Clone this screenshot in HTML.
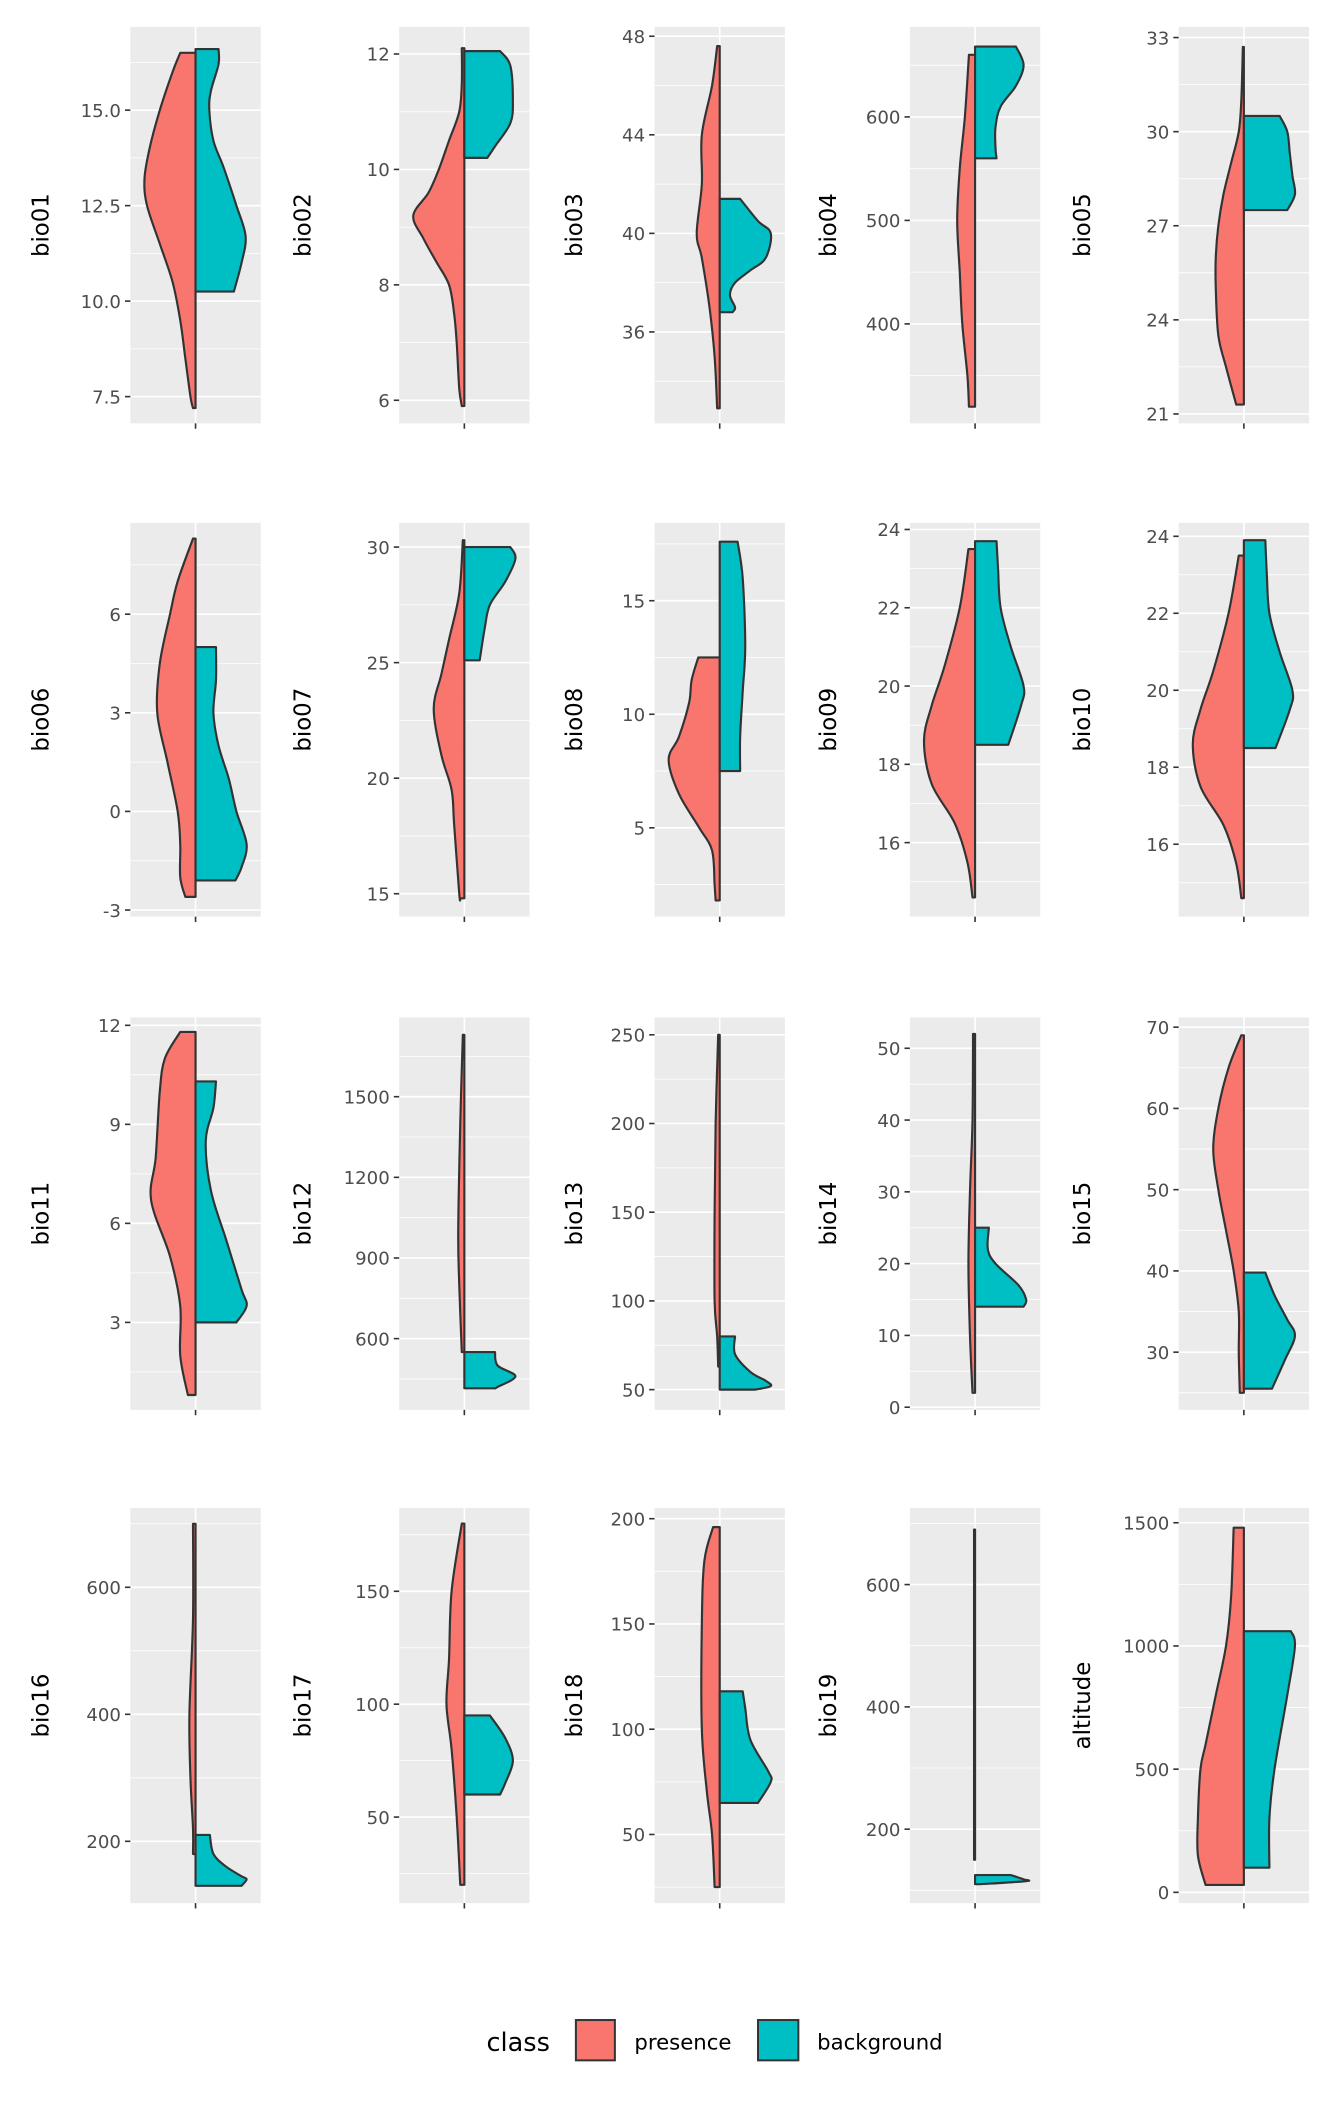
<!DOCTYPE html>
<html><head><meta charset="utf-8"><style>
html,body{margin:0;padding:0;background:#fff}
svg{display:block}
text{font-family:"DejaVu Sans","Liberation Sans",sans-serif}
</style></head><body>
<svg id="chart" width="1344" height="2112" viewBox="0 0 1000 1571.43" xmlns="http://www.w3.org/2000/svg">
<g id="panels"></g>
<g>
<text x="362" y="1526" font-size="19" fill="#000">class</text>
<rect x="428.5" y="1503" width="29" height="30" fill="#F8766D" stroke="#333" stroke-width="1.5"/>
<text x="472" y="1525" font-size="15.8" fill="#000">presence</text>
<rect x="564" y="1503" width="30" height="30" fill="#00BFC4" stroke="#333" stroke-width="1.5"/>
<text x="608" y="1525" font-size="15.8" fill="#000">background</text>
</g>
</svg>
<script>
const names=["bio01","bio02","bio03","bio04","bio05","bio06","bio07","bio08","bio09","bio10","bio11","bio12","bio13","bio14","bio15","bio16","bio17","bio18","bio19","altitude"];
const domains=[[6.80,17.18],[5.60,12.47],[32.29,48.38],[303.9,687],[20.70,33.34],
[-3.20,8.78],[14.01,31.05],[1.09,18.43],[14.11,24.17],[14.12,24.35],
[0.35,12.24],[335,1795],[38.6,259.8],[-0.37,54.3],[22.9,71.2],
[102.7,724.9],[11.9,186.9],[17.4,205.1],[79.1,725.3],[-43.6,1560]];
const tickVals=[[7.5,10,12.5,15],[6,8,10,12],[36,40,44,48],[400,500,600],[21,24,27,30,33],
[-3,0,3,6],[15,20,25,30],[5,10,15],[16,18,20,22,24],[16,18,20,22,24],
[3,6,9,12],[600,900,1200,1500],[50,100,150,200,250],[0,10,20,30,40,50],[30,40,50,60,70],
[200,400,600],[50,100,150],[50,100,150,200],[200,400,600],[0,500,1000,1500]];
const tickLabels=[["7.5","10.0","12.5","15.0"],["6","8","10","12"],["36","40","44","48"],["400","500","600"],["21","24","27","30","33"],
["-3","0","3","6"],["15","20","25","30"],["5","10","15"],["16","18","20","22","24"],["16","18","20","22","24"],
["3","6","9","12"],["600","900","1200","1500"],["50","100","150","200","250"],["0","10","20","30","40","50"],["30","40","50","60","70"],
["200","400","600"],["50","100","150"],["50","100","150","200"],["200","400","600"],["0","500","1000","1500"]];
const presence=[
[[16.5,0.3],[16.0,0.45],[15.0,0.7],[14.0,0.9],[13.2,1.0],[12.5,0.95],[11.5,0.7],[10.5,0.45],[9.5,0.3],[8.5,0.2],[7.5,0.1],[7.2,0.05]],
[[12.1,0.05],[11.5,0.05],[11,0.1],[10.5,0.3],[10,0.5],[9.6,0.7],[9.2,1.0],[8.8,0.8],[8.4,0.55],[8.0,0.3],[7.5,0.2],[7,0.15],[6.2,0.1],[5.9,0.05]],
[[47.6,0.05],[46,0.15],[44,0.35],[42,0.35],[40,0.45],[39,0.35],[37,0.2],[35,0.1],[32.9,0.05]],
[[660,0.12],[600,0.2],[550,0.3],[500,0.35],[450,0.3],[400,0.25],[350,0.15],[320,0.12]],
[[32.7,0.02],[31,0.05],[30,0.1],[29,0.25],[28,0.4],[27,0.5],[26,0.55],[25,0.55],[23.5,0.5],[22.5,0.35],[21.3,0.15]],
[[8.3,0.05],[7,0.35],[6,0.5],[4.5,0.7],[3,0.75],[1.5,0.55],[0,0.35],[-1,0.3],[-2,0.3],[-2.6,0.2]],
[[30.3,0.03],[28,0.1],[26,0.3],[24.5,0.45],[23,0.6],[21,0.45],[19.5,0.25],[18,0.2],[15,0.1],[14.8,0.08]],
[[12.5,0.42],[11.5,0.55],[10.5,0.6],[9,0.8],[8,1.0],[6.5,0.8],[5,0.4],[4,0.15],[2.5,0.1],[1.8,0.08]],
[[23.5,0.13],[22,0.3],[20.5,0.6],[19.5,0.85],[18.6,1.0],[17.5,0.85],[16.5,0.4],[15.5,0.15],[14.6,0.05]],
[[23.5,0.1],[22,0.3],[20.5,0.6],[19.5,0.85],[18.6,1.0],[17.5,0.85],[16.5,0.4],[15.5,0.15],[14.6,0.05]],
[[11.8,0.3],[11,0.6],[10,0.7],[8,0.78],[6.7,0.87],[5,0.5],[3.5,0.3],[2,0.3],[0.8,0.15]],
[[1730,0.03],[1400,0.08],[1000,0.12],[800,0.1],[550,0.05]],
[[250,0.03],[200,0.08],[150,0.1],[100,0.1],[80,0.05],[63,0.03]],
[[52,0.04],[40,0.05],[30,0.1],[20,0.13],[10,0.1],[2,0.05]],
[[69,0.05],[65,0.3],[60,0.5],[55,0.6],[50,0.5],[45,0.35],[40,0.2],[35,0.1],[30,0.1],[25,0.08]],
[[700,0.05],[550,0.05],[400,0.12],[300,0.1],[220,0.05],[180,0.05]],
[[180,0.05],[150,0.25],[120,0.3],[100,0.35],[80,0.25],[50,0.15],[20,0.08]],
[[196,0.13],[180,0.3],[150,0.35],[100,0.35],[70,0.25],[50,0.15],[25,0.1]],
[[690,0.02],[400,0.02],[150,0.02]],
[[1480,0.2],[1200,0.25],[1000,0.35],[800,0.55],[600,0.75],[500,0.85],[300,0.9],[150,0.9],[30,0.75]]];
const background=[
[[16.6,0.45],[16.2,0.45],[15.5,0.3],[15.0,0.27],[14.2,0.35],[13.5,0.55],[12.5,0.8],[11.7,0.98],[11.0,0.9],[10.25,0.75]],
[[12.05,0.7],[11.8,0.9],[11.2,0.95],[10.8,0.9],[10.4,0.6],[10.2,0.45]],
[[41.4,0.4],[40.5,0.75],[40,1.0],[39,0.9],[38.5,0.6],[38,0.3],[37.5,0.2],[37,0.3],[36.8,0.25]],
[[668,0.8],[650,0.95],[630,0.8],[610,0.5],[590,0.4],[570,0.4],[560,0.42]],
[[30.5,0.7],[30,0.85],[29.3,0.9],[28.6,0.95],[28,1.0],[27.5,0.85]],
[[5.0,0.4],[4,0.4],[3,0.35],[2,0.45],[1,0.65],[0,0.8],[-1,1.0],[-1.7,0.9],[-2.1,0.78]],
[[30,0.9],[29.5,1.0],[28.5,0.8],[27.5,0.5],[26.5,0.4],[25.1,0.3]],
[[17.6,0.35],[16,0.45],[13,0.5],[11,0.45],[9,0.4],[7.5,0.4]],
[[23.7,0.42],[23,0.45],[22,0.5],[21,0.7],[20,0.95],[19.5,0.9],[18.5,0.65]],
[[23.9,0.42],[23,0.45],[22,0.5],[21,0.7],[20,0.95],[19.5,0.9],[18.5,0.62]],
[[10.3,0.4],[9.5,0.35],[8.5,0.2],[7,0.3],[5.5,0.6],[4,0.9],[3.5,1.0],[3.0,0.8]],
[[550,0.6],[500,0.65],[460,1.0],[420,0.65],[415,0.6]],
[[80,0.3],[70,0.3],[60,0.6],[55,0.9],[52,1.0],[50,0.7]],
[[25,0.27],[22,0.25],[20,0.4],[17,0.85],[15,1.0],[14,0.95]],
[[39.8,0.42],[37,0.6],[34,0.85],[32,1.0],[29,0.8],[25.5,0.55]],
[[210,0.28],[180,0.35],[160,0.6],[145,0.9],[140,1.0],[130,0.9]],
[[95,0.5],[85,0.8],[75,0.95],[65,0.8],[60,0.7]],
[[118,0.45],[110,0.5],[95,0.6],[80,0.95],[75,1.0],[65,0.75]],
[[125,0.7],[118,0.95],[115,1.0],[110,0.1]],
[[1060,0.92],[1000,1.0],[800,0.85],[500,0.6],[300,0.5],[100,0.5]]];

const colLeft=[97,297,487,677,877], colTitle=[30,225,427,616,805];
const rowTop=[20,389,757,1122], rowBot=[315,682,1049,1416];
const PW=97, S=38;
const NS="http://www.w3.org/2000/svg";
const root=document.getElementById('panels');
function mk(tag,attrs,parent){const e=document.createElementNS(NS,tag);for(const k in attrs)e.setAttribute(k,attrs[k]);parent.appendChild(e);return e;}
function smooth(pts){let d="";for(let i=0;i<pts.length-1;i++){const p0=pts[Math.max(i-1,0)],p1=pts[i],p2=pts[i+1],p3=pts[Math.min(i+2,pts.length-1)];
const c1=[p1[0]+(p2[0]-p0[0])/6,p1[1]+(p2[1]-p0[1])/6],c2=[p2[0]-(p3[0]-p1[0])/6,p2[1]-(p3[1]-p1[1])/6];
d+=` C${c1[0]},${c1[1]} ${c2[0]},${c2[1]} ${p2[0]},${p2[1]}`;}return d;}
names.forEach((nm,i)=>{
  const r=Math.floor(i/5),c=i%5;
  const L=colLeft[c],T=rowTop[r],B=rowBot[r],cx=L+PW/2;
  const [d0,d1]=domains[i];
  const y=v=>B-(v-d0)/(d1-d0)*(B-T);
  const g=mk('g',{},root);
  
  
  const bg=mk('rect',{x:L,y:T,width:PW,height:B-T,fill:'#EBEBEB'},g);
  
  
  const tv=tickVals[i],step=tv[1]-tv[0];
  for(let k=-1;k<tv.length;k++){const m=tv[0]+step*(k+0.5);if(m>d0&&m<d1){const ln=mk('line',{x1:L,x2:L+PW,y1:y(m),y2:y(m),stroke:'#fff','stroke-width':0.6},g);
    
    }}
  tv.forEach((v,k)=>{const yy=y(v);
    const ln=mk('line',{x1:L,x2:L+PW,y1:yy,y2:yy,stroke:'#fff','stroke-width':1.2},g);
    
    
    const tk=mk('line',{x1:L-4,x2:L,y1:yy,y2:yy,stroke:'#333','stroke-width':1.2},g);
    
    
    const t=mk('text',{x:L-7,y:yy+5,'text-anchor':'end','font-size':13.5,fill:'#4D4D4D'},g);t.textContent=tickLabels[i][k];
    
    });
  const vg=mk('line',{x1:cx,x2:cx,y1:T,y2:B,stroke:'#fff','stroke-width':1.2},g);
  
  
  const xt=mk('line',{x1:cx,x2:cx,y1:B,y2:B+4,stroke:'#333','stroke-width':1.2},g);
  
  
  const tt=mk('text',{transform:`translate(${colTitle[c]+6},${(T+B)/2}) rotate(-90)`,'text-anchor':'middle','font-size':17,fill:'#000'},g);tt.textContent=nm;
  
  
  [[presence[i],-1,'#F8766D','presence'],[background[i],1,'#00BFC4','background']].forEach(([prof,dir,col,lab])=>{
    const pts=prof.map(p=>[cx+dir*p[1]*S,y(p[0])]);
    let d=`M${cx},${pts[0][1]} L${pts[0][0]},${pts[0][1]}`+smooth(pts)+` L${cx},${pts[pts.length-1][1]} Z`;
    const p=mk('path',{d:d,fill:col,stroke:'#333','stroke-width':1.6,'stroke-linejoin':'round'},g);
    
    
  });
});
</script>
</body></html>
